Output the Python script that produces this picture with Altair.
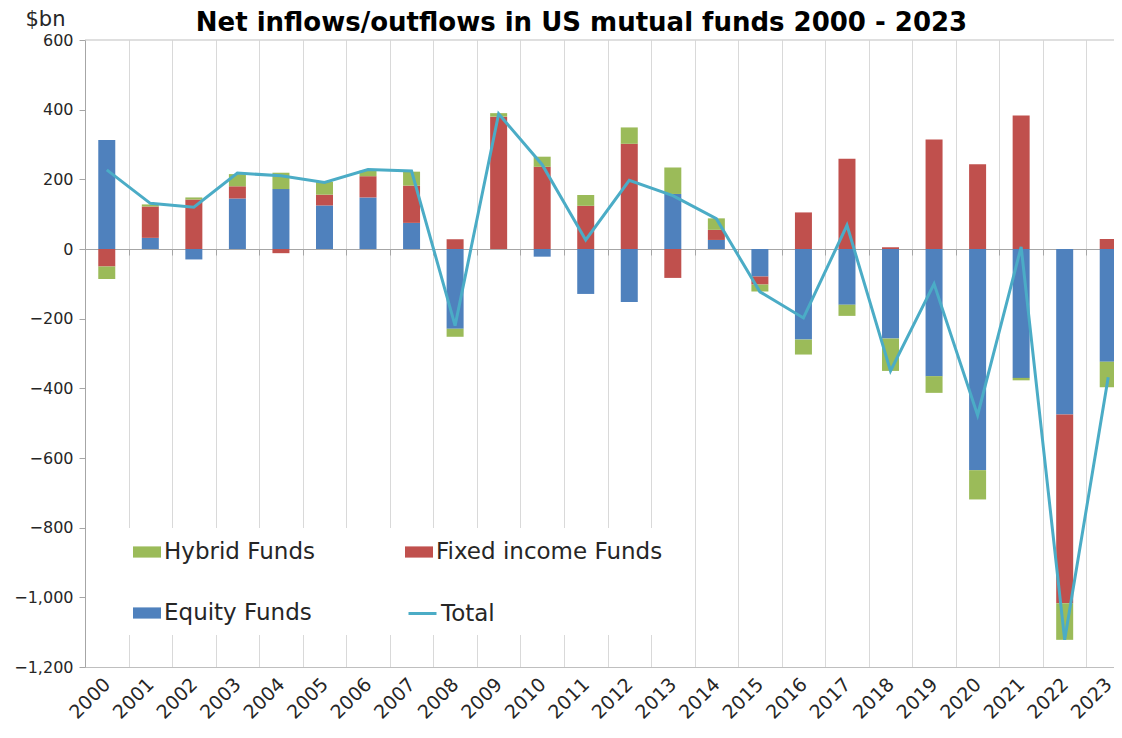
import altair as alt
import pandas as pd

years = [str(y) for y in range(2000, 2024)]
equity = [313, 32, -30, 145, 172, 125, 148, 75, -229, 0, -22, -129, -152, 158, 26, -79,
          -260, -160, -257, -365, -635, -370, -475, -324]
fixed = [-50, 90, 142, 35, -12, 31, 61, 107, 28, 380, 236, 124, 302, -83, 29, -23,
         105, 259, 5, 314, 243, 383, -542, 29]
hybrid = [-36, 6, 6, 35, 47, 37, 16, 40, -23, 10, 29, 31, 47, 76, 33, -20,
          -43, -32, -93, -48, -84, -7, -105, -73]
total = [227, 131, 120, 218, 210, 191, 228, 224, -220, 388, 242, 26, 197, 153, 87, -123,
         -198, 68, -350, -100, -477, 6, -1122, -368]

legend_names = ["Hybrid Funds", "Fixed income Funds", "Equity Funds"]
legend_colors = ["#9BBB59", "#C0504D", "#4F81BD"]
total_name = "Total"
total_color = "#4BACC6"
y_min, y_max = -1200, 600
y_ticks = list(range(-1200, 601, 200))

rows = []
for i, yr in enumerate(years):
    rows.append({"year": yr, "series": "Equity Funds", "value": equity[i], "rank": 0})
    rows.append({"year": yr, "series": "Fixed income Funds", "value": fixed[i], "rank": 1})
    rows.append({"year": yr, "series": "Hybrid Funds", "value": hybrid[i], "rank": 2})
bars_df = pd.DataFrame(rows)
line_df = pd.DataFrame({"year": years, "value": total, "series": [total_name] * len(years)})
top_df = pd.DataFrame({"v": [y_max]})

FONT = "DejaVu Sans"
TXT = "#262626"
W, H = 1029, 627

xscale = alt.Scale(domain=years, range=[0, 1045], paddingInner=0, paddingOuter=0)
yscale = alt.Scale(domain=[y_min, y_max], nice=False)

bars = alt.Chart(bars_df).mark_bar(size=17).encode(
    x=alt.X("year:O", scale=xscale, sort=years,
            axis=alt.Axis(orient="bottom", title=None, labelAngle=-45, labelAlign="right",
                          labelBaseline="middle", labelFontSize=19, labelColor=TXT,
                          labelFont=FONT, labelPadding=14, domain=True,
                          domainColor="#bfbfbf", ticks=False, grid=True, gridColor="#d9d9d9",
                          tickBand="extent")),
    y=alt.Y("value:Q", scale=yscale, stack="zero",
            axis=alt.Axis(values=y_ticks, format=",.0f", grid=False, domainColor="#a6a6a6",
                          tickColor="#a6a6a6", tickSize=6, labelFontSize=16, labelColor=TXT,
                          labelFont=FONT, labelPadding=6, title="$bn", titleAngle=0,
                          titleX=-60, titleY=-15, titleAlign="left", titleBaseline="alphabetic",
                          titleFontWeight="normal", titleFontSize=21, titleFont=FONT,
                          titleColor=TXT)),
    color=alt.Color("series:N", scale=alt.Scale(domain=legend_names, range=legend_colors),
                    legend=alt.Legend(orient="none", legendX=38, legendY=488, columns=2,
                                      direction="horizontal",
                                      title=None, symbolType="M-1,-0.4H1V0.4H-1Z",
                                      symbolSize=784, symbolStrokeWidth=0, symbolOpacity=1,
                                      labelFontSize=23, labelFont=FONT, labelColor=TXT,
                                      labelOffset=3, columnPadding=90, rowPadding=35,
                                      fillColor="white", padding=10, zindex=1,
                                      labelLimit=400)),
    order=alt.Order("rank:Q"),
)

line = alt.Chart(line_df).mark_line(strokeWidth=3).encode(
    x=alt.X("year:O", scale=xscale, sort=years,
            axis=alt.Axis(orient="bottom", offset=-418, labels=False, title=None, grid=False,
                          domain=True, domainColor="#a6a6a6", ticks=True, tickSize=6,
                          tickColor="#a6a6a6", tickBand="extent")),
    y=alt.Y("value:Q", scale=yscale),
    stroke=alt.Stroke("series:N", scale=alt.Scale(domain=[total_name], range=[total_color]),
                      legend=alt.Legend(orient="none", legendX=322, legendY=558, title=None,
                                        symbolType="M-1,0H1", symbolSize=784,
                                        symbolStrokeWidth=3, labelFontSize=23, labelFont=FONT,
                                        labelColor=TXT, labelOffset=3, fillColor="white",
                                        padding=0, zindex=2)),
)

top_rule = alt.Chart(top_df).mark_rule(color="#bfbfbf", strokeWidth=1).encode(
    y=alt.Y("v:Q", scale=yscale)
)

chart = alt.layer(top_rule, bars, line).resolve_axis(x="independent").properties(
    width=W, height=H,
    title=alt.TitleParams("Net inflows/outflows in US mutual funds 2000 - 2023", font=FONT,
                          fontSize=26, fontWeight="bold", color="black", anchor="middle",
                          dx=-18, dy=49, offset=0, baseline="alphabetic"),
    padding={"left": 77, "top": 32, "right": 0, "bottom": 60},
    autosize=alt.AutoSizeParams(type="none"),
).configure_view(stroke=None)

chart.save("out.html", embed_options={"renderer": "svg", "actions": False})
